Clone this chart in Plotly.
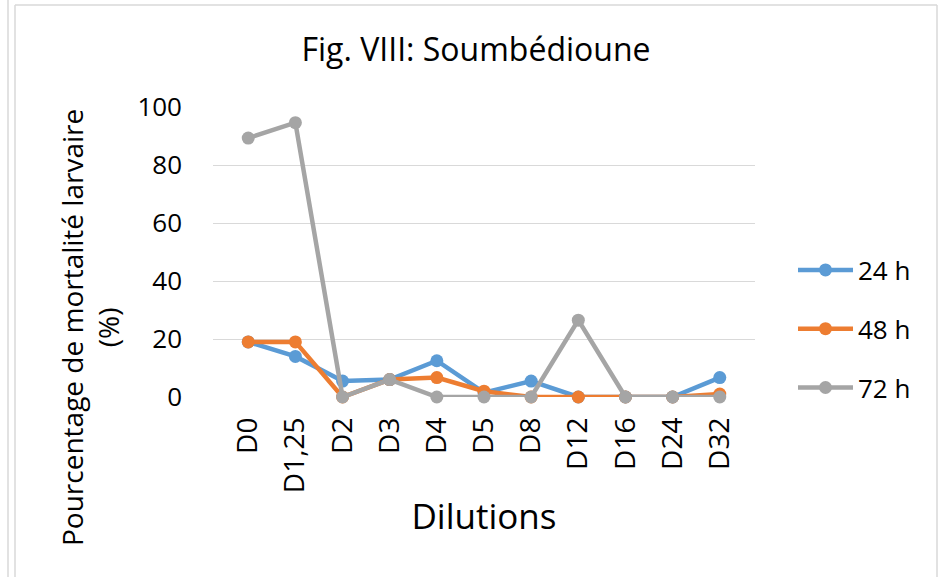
import plotly.graph_objects as go

# Dilution levels and larval mortality (%) per exposure time
dilutions = ["D0", "D1,25", "D2", "D3", "D4", "D5", "D8", "D12", "D16", "D24", "D32"]
mort_24h = [19.0, 14.0, 5.5, 6.0, 12.5, 1.5, 5.5, 0, 0, 0, 6.7]
mort_48h = [19.0, 19.0, 0, 6.0, 6.7, 2.0, 0, 0, 0, 0, 1.0]
mort_72h = [89.3, 94.6, 0, 6.0, 0, 0, 0, 26.5, 0, 0, 0]
series_names = ["24 h", "48 h", "72 h"]
y_ticks = [0, 20, 40, 60, 80, 100]

colors = ["#5B9BD5", "#ED7D31", "#A5A5A5"]
FONT = "Open Sans"

W, H = 945, 577
L, R, T, B = 213, 190, 107, 180
PW, PH = W - L - R, H - T - B


def px(x):
    return (x - L) / PW


def py(y):
    return (H - B - y) / PH


fig = go.Figure()
for name, vals, col in zip(series_names, [mort_24h, mort_48h, mort_72h], colors):
    fig.add_trace(go.Scatter(
        x=dilutions, y=vals, name=name, mode="lines+markers",
        legendgroup=name,
        line=dict(color=col, width=4.5),
        marker=dict(color=col, size=13),
        cliponaxis=False,
    ))

fig.update_layout(
    width=W, height=H,
    margin=dict(l=L, r=R, t=T, b=B),
    paper_bgcolor="white", plot_bgcolor="white",
    font=dict(family=FONT, size=26, color="black"),
    title=dict(text="Fig. VIII: Soumbédioune", xref="paper", x=px(476),
               xanchor="center", y=1 - 50 / H, yanchor="middle",
               font=dict(size=32)),
    showlegend=True,
    legend=dict(x=px(793), y=py(329), xanchor="left", yanchor="middle",
                font=dict(size=26), itemwidth=55, tracegroupgap=22,
                bgcolor="rgba(0,0,0,0)"),
    xaxis=dict(
        tickangle=-90, showgrid=False, zeroline=False, showline=False,
        ticks="", tickfont=dict(size=28), ticklabelstandoff=14,
        title=dict(text="Dilutions", font=dict(size=35), standoff=12),
    ),
    yaxis=dict(
        range=[0, 100], tickvals=y_ticks, showgrid=True, gridcolor="#D9D9D9",
        gridwidth=1.3, zeroline=False, showline=False, ticks="",
        tickfont=dict(size=26), ticklabelstandoff=30,
    ),
)

# Y-axis title as two centered lines
fig.add_annotation(
    text="Pourcentage de mortalité larvaire<br>(%)",
    xref="paper", yref="paper", x=px(90), y=py(328),
    xanchor="center", yanchor="middle", textangle=-90,
    showarrow=False, font=dict(size=28),
)

# Outer frame lines
frame = dict(color="#D9D9D9", width=1.5)
fig.add_shape(type="line", xref="paper", yref="paper",
              x0=px(8), x1=px(8), y0=py(0), y1=py(H), line=frame)
fig.add_shape(type="line", xref="paper", yref="paper",
              x0=px(15), x1=px(15), y0=py(5), y1=py(H), line=frame)
fig.add_shape(type="line", xref="paper", yref="paper",
              x0=px(15), x1=px(937), y0=py(5), y1=py(5), line=frame)
fig.add_shape(type="line", xref="paper", yref="paper",
              x0=px(937), x1=px(937), y0=py(5), y1=py(H), line=frame)

fig.write_html("out.html")
